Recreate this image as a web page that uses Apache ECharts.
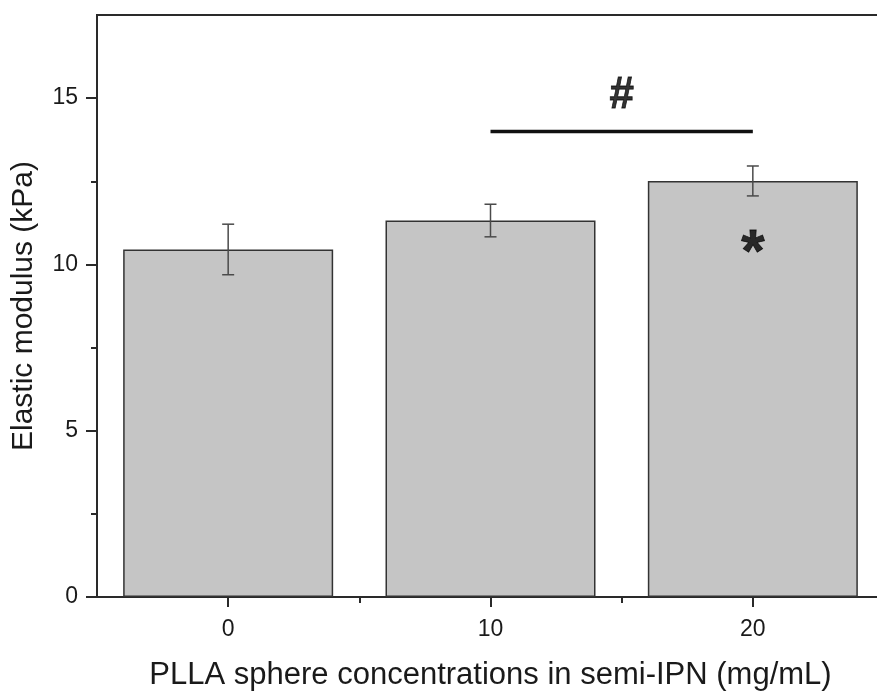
<!DOCTYPE html>
<html>
<head>
<meta charset="utf-8">
<script src="https://cdn.jsdelivr.net/npm/echarts@6/dist/echarts.min.js"></script>
<style>html,body{margin:0;padding:0;background:#fff}#c{width:877px;height:691px}</style>
</head>
<body>
<div id="c"></div>
<script>
const categories = [0, 10, 20];
const means = [10.45, 11.32, 12.51];
const errors = [0.76, 0.49, 0.45];
const yMajorTicks = [0, 5, 10, 15];
const yMinorTicks = [2.5, 7.5, 12.5];
const xMajorTicks = [0, 10, 20];
const xMinorTicks = [5, 15];
const sigLine = [[10, 14.0], [20, 14.0]];
const sigLabels = [{pos: [15, 15.08], text: '#', size: 44}, {pos: [20, 10.3], text: '*', size: 60}];

const font = 'Liberation Sans, Arial, sans-serif';
const axisColor = '#2a2a2a';
const textColor = '#1a1a1a';

const chart = echarts.init(document.getElementById('c'));
const xBase = {
  type: 'value', min: -5, max: 25, gridIndex: 0, position: 'bottom',
  splitLine: {show: false},
  axisLine: {onZero: false, lineStyle: {color: axisColor, width: 2}}
};
const yBase = {
  type: 'value', min: 0, max: 17.5, position: 'left',
  splitLine: {show: false},
  axisLine: {onZero: false, lineStyle: {color: axisColor, width: 2}}
};
chart.setOption({
  animation: false,
  grid: {left: 97, top: 15, width: 787, height: 582, outerBoundsMode: 'none', containLabel: false,
         show: true, borderColor: axisColor, borderWidth: 2, backgroundColor: 'transparent'},
  xAxis: [
    Object.assign({}, xBase, {
      name: 'PLLA sphere concentrations in semi-IPN (mg/mL)',
      nameLocation: 'middle', nameGap: 63,
      nameTextStyle: {fontFamily: font, fontSize: 31, color: textColor},
      axisTick: {customValues: xMajorTicks, length: 10, lineStyle: {color: axisColor, width: 2}},
      axisLabel: {customValues: xMajorTicks, margin: 21, fontFamily: font, fontSize: 23, color: textColor}
    }),
    Object.assign({}, xBase, {
      axisTick: {customValues: xMinorTicks, length: 6, lineStyle: {color: axisColor, width: 2}},
      axisLabel: {show: false}
    })
  ],
  yAxis: [
    Object.assign({}, yBase, {
      name: 'Elastic modulus (kPa)',
      nameLocation: 'middle', nameGap: 58,
      nameTextStyle: {fontFamily: font, fontSize: 30, color: textColor},
      axisTick: {customValues: yMajorTicks, length: 11, lineStyle: {color: axisColor, width: 2}},
      axisLabel: {customValues: yMajorTicks, margin: 19, fontFamily: font, fontSize: 23, color: textColor}
    }),
    Object.assign({}, yBase, {
      axisTick: {customValues: yMinorTicks, length: 6, lineStyle: {color: axisColor, width: 2}},
      axisLabel: {show: false}
    })
  ],
  series: [
    {
      type: 'bar', xAxisIndex: 0, yAxisIndex: 0,
      barWidth: 210,
      data: categories.map((c, i) => [c, means[i]]),
      itemStyle: {color: '#c5c5c5', borderColor: '#333', borderWidth: 1.5}
    },
    {
      type: 'custom', xAxisIndex: 0, yAxisIndex: 0,
      data: categories.map((c, i) => [c, means[i] - errors[i], means[i] + errors[i]]),
      renderItem: function (params, api) {
        const lo = api.coord([api.value(0), api.value(1)]);
        const hi = api.coord([api.value(0), api.value(2)]);
        const w = 6;
        const st = {stroke: '#4a4a4a', lineWidth: 1.5};
        return {type: 'group', children: [
          {type: 'line', shape: {x1: lo[0], y1: lo[1], x2: hi[0], y2: hi[1]}, style: st},
          {type: 'line', shape: {x1: lo[0] - w, y1: lo[1], x2: lo[0] + w, y2: lo[1]}, style: st},
          {type: 'line', shape: {x1: hi[0] - w, y1: hi[1], x2: hi[0] + w, y2: hi[1]}, style: st}
        ]};
      },
      z: 5
    },
    {
      type: 'line', xAxisIndex: 0, yAxisIndex: 0,
      data: sigLine, symbol: 'none',
      lineStyle: {color: '#111', width: 3.5}, z: 6
    },
    {
      type: 'scatter', xAxisIndex: 0, yAxisIndex: 0,
      symbolSize: 0,
      data: sigLabels.map(d => ({value: d.pos, label: {formatter: d.text, fontSize: d.size}})),
      label: {show: true, position: 'inside', fontFamily: font, fontWeight: 900, color: '#000',
              textBorderWidth: 0.8, textBorderColor: '#000'},
      z: 7
    }
  ]
});
</script>
</body>
</html>
